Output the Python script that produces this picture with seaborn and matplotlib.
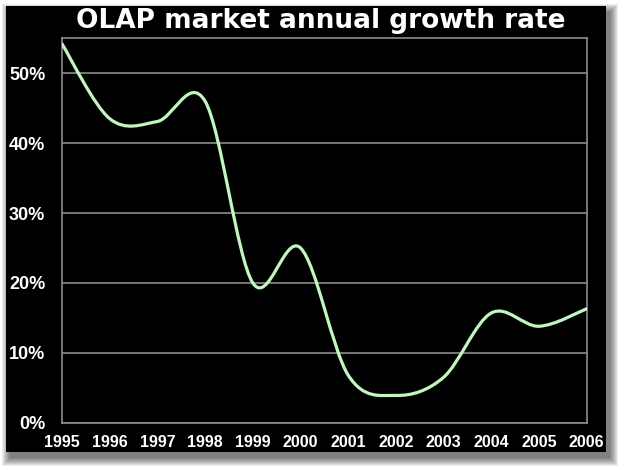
"""OLAP market annual growth rate, dark slide style chart."""

import matplotlib
matplotlib.use("Agg")
import matplotlib.pyplot as plt
import numpy as np
import seaborn as sns
from matplotlib.patches import PathPatch, Rectangle
from matplotlib.path import Path
from matplotlib.ticker import FuncFormatter

# data
years = [1995, 1996, 1997, 1998, 1999, 2000, 2001, 2002, 2003, 2004, 2005, 2006]
growth = [54.2, 43.5, 43.1, 46.0, 20.0, 25.0, 6.8, 3.9, 6.5, 15.7, 13.8, 16.3]
y_ticks = [0, 10, 20, 30, 40, 50]
title = "OLAP market annual growth rate"

GRID = "#8c8c8c"
LINE = "#c2f5c0"

sns.set_theme(style="dark", rc={
    "axes.facecolor": "black",
    "axes.edgecolor": GRID,
    "grid.color": GRID,
    "text.color": "white",
    "xtick.color": "white",
    "ytick.color": "white",
})
plt.rcParams["font.family"] = ["Liberation Sans", "DejaVu Sans"]

fig = plt.figure(figsize=(6.24, 4.70), dpi=100, facecolor="white")
W, H = 624, 470


def px_rect(x0, y0, x1, y1, **kw):
    # rectangle given in pixel coords from the top left corner
    return Rectangle((x0 / W, 1 - y1 / H), (x1 - x0) / W, (y1 - y0) / H,
                     transform=fig.transFigure, **kw)


# soft drop shadow behind the black slide
for r in range(9):
    fig.add_artist(px_rect(6 + 4 - r, 6 + 6 - r, 606 + 4 + r, 452 + 6 + r,
                           facecolor="black", edgecolor="none",
                           alpha=0.07, zorder=-3))
fig.add_artist(px_rect(6, 6, 606, 452, facecolor="black",
                       edgecolor="none", zorder=-1))

ax = fig.add_axes([62 / W, 1 - 422.7 / H, (586.7 - 62) / W, (422.7 - 38.3) / H])
ax.set_facecolor("black")

# smooth curve (Catmull-Rom style bezier through the data points)
pts = np.column_stack([years, growth]).astype(float)
verts = [tuple(pts[0])]
codes = [Path.MOVETO]
n = len(pts)
for i in range(n - 1):
    p0 = pts[max(i - 1, 0)]
    p1 = pts[i]
    p2 = pts[i + 1]
    p3 = pts[min(i + 2, n - 1)]
    c1 = p1 + (p2 - p0) / 6
    c2 = p2 - (p3 - p1) / 6
    verts += [tuple(c1), tuple(c2), tuple(p2)]
    codes += [Path.CURVE4] * 3
ax.add_patch(PathPatch(Path(verts, codes), facecolor="none", edgecolor=LINE,
                       lw=2.3, capstyle="round", zorder=3))

ax.set_xlim(years[0], years[-1])
ax.set_ylim(0, 55)
ax.set_xticks(years)
ax.set_yticks(y_ticks)
ax.yaxis.set_major_formatter(FuncFormatter(lambda v, p: f"{v:.0f}%"))

ax.grid(axis="y", color=GRID, lw=1.2)
ax.grid(axis="x", visible=False)
for s in ax.spines.values():
    s.set_visible(True)
    s.set_color(GRID)
    s.set_linewidth(1.2)

ax.tick_params(axis="x", length=4, width=1.1, color=GRID, direction="out",
               pad=5, labelsize=11.5, labelcolor="white")
ax.tick_params(axis="y", length=4, width=1.1, color=GRID, direction="out",
               pad=8, labelsize=13, labelcolor="white")
for lab in ax.get_xticklabels() + ax.get_yticklabels():
    lab.set_fontweight("bold")

fig.text(320.5 / W, 1 - 28 / H, title, ha="center", va="baseline",
         color="white", fontsize=19, fontweight="bold",
         family=["DejaVu Sans"])

fig.savefig("out.png", dpi=100, facecolor="white")
